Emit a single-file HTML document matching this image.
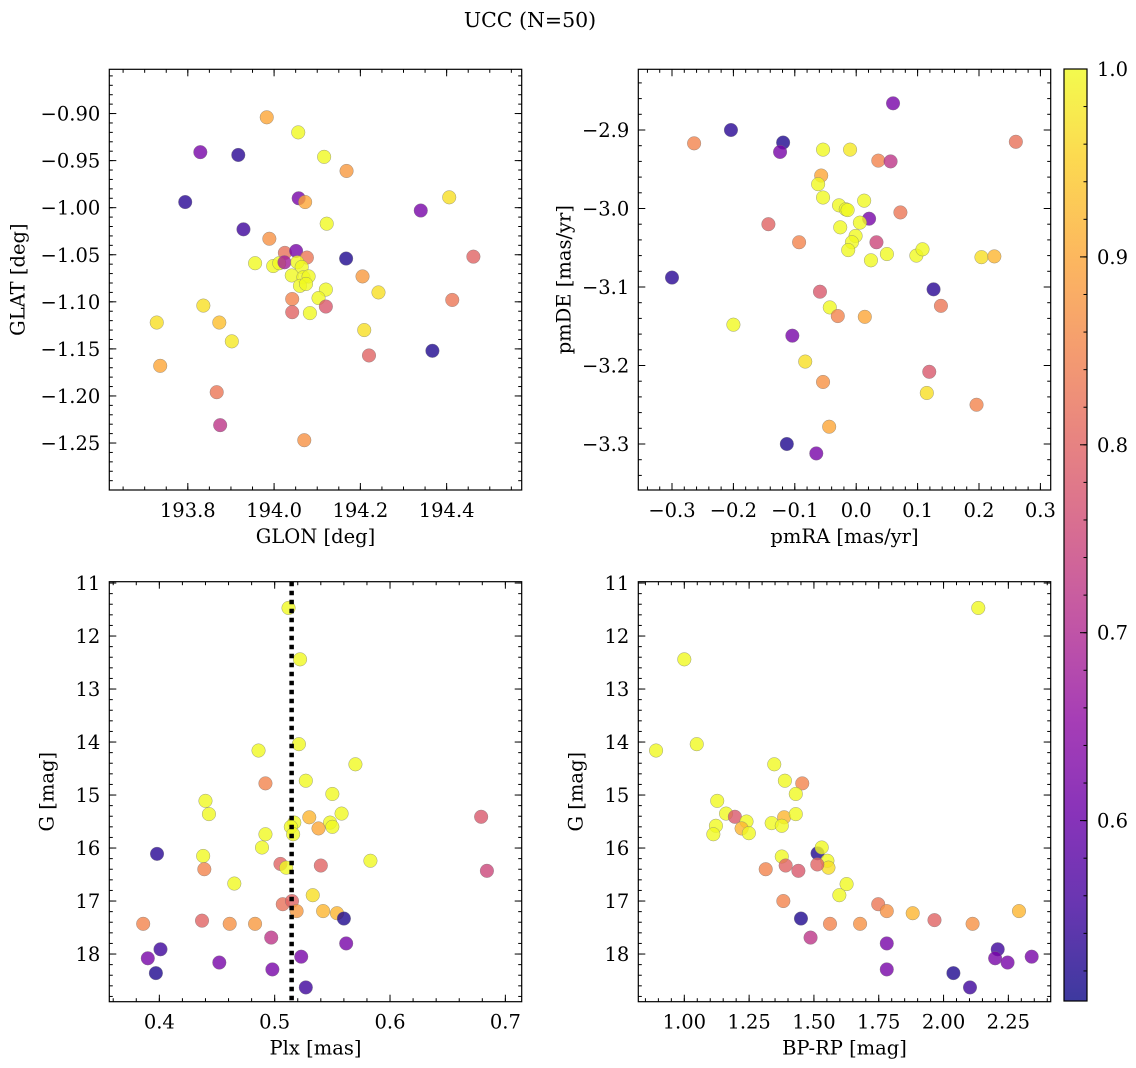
<!DOCTYPE html>
<html><head><meta charset="utf-8">
<style>
html,body{margin:0;padding:0;background:#fff;}
svg{display:block;font-family:"DejaVu Serif","Liberation Serif",serif;}
</style></head>
<body>
<svg id="fig" width="1136" height="1068" viewBox="0 0 1136 1068" xmlns="http://www.w3.org/2000/svg">
<text x="530" y="27" font-size="20.5" text-anchor="middle">UCC (N=50)</text>
</svg>
<script>
// ---- Panel 1: GLON vs GLAT ----
const glon1=[193.983,194.056,193.829,193.917,194.116,194.168,193.794,194.057,194.072,194.406,194.340,194.122,193.929,193.989,194.025,194.051,194.076,194.167,194.462,193.956,193.998,194.012,194.024,194.054,194.064,194.041,194.068,194.080,194.060,194.074,194.205,194.242,194.120,194.103,194.042,194.413,194.120,194.042,194.083,193.836,193.728,193.873,193.902,194.209,194.367,194.220,193.736,193.867,193.875,194.070];
const glat1=[-0.904,-0.920,-0.941,-0.944,-0.946,-0.961,-0.994,-0.990,-0.994,-0.989,-1.003,-1.017,-1.023,-1.033,-1.048,-1.046,-1.053,-1.054,-1.052,-1.059,-1.062,-1.059,-1.058,-1.058,-1.063,-1.072,-1.074,-1.073,-1.083,-1.081,-1.073,-1.090,-1.087,-1.096,-1.097,-1.098,-1.105,-1.111,-1.112,-1.104,-1.122,-1.122,-1.142,-1.130,-1.152,-1.157,-1.168,-1.196,-1.231,-1.247];
const prob1=[0.9,1.0,0.62,0.53,1.0,0.88,0.53,0.62,0.9,0.97,0.62,1.0,0.55,0.87,0.82,0.62,0.83,0.52,0.8,1.0,1.0,1.0,0.68,1.0,1.0,1.0,1.0,1.0,1.0,1.0,0.88,0.97,1.0,1.0,0.85,0.83,0.78,0.8,1.0,0.97,0.97,0.93,0.98,0.97,0.52,0.8,0.9,0.83,0.72,0.87];
// ---- Panel 2: pmRA vs pmDE ----
const pmra2=[0.060,-0.204,-0.264,-0.119,-0.124,0.260,-0.054,-0.010,0.036,0.056,-0.057,-0.062,-0.054,0.013,-0.028,-0.017,-0.014,0.021,0.072,-0.143,0.006,-0.026,-0.001,-0.007,-0.013,-0.093,0.033,0.024,0.050,0.098,0.108,0.204,0.225,-0.300,0.126,-0.059,0.138,-0.043,-0.030,0.014,-0.200,-0.104,-0.083,0.119,-0.054,0.115,0.196,-0.044,-0.113,-0.065];
const pmde2=[-2.866,-2.900,-2.917,-2.916,-2.928,-2.915,-2.925,-2.925,-2.939,-2.940,-2.958,-2.969,-2.986,-2.990,-2.996,-3.001,-3.002,-3.013,-3.005,-3.020,-3.018,-3.024,-3.035,-3.043,-3.053,-3.043,-3.043,-3.066,-3.058,-3.060,-3.052,-3.062,-3.061,-3.088,-3.103,-3.106,-3.124,-3.126,-3.137,-3.138,-3.148,-3.162,-3.195,-3.208,-3.221,-3.235,-3.250,-3.278,-3.300,-3.312];
const prob2=[0.62,0.53,0.85,0.52,0.62,0.82,1.0,0.98,0.85,0.72,0.9,1.0,1.0,1.0,1.0,1.0,1.0,0.62,0.83,0.8,1.0,1.0,1.0,1.0,1.0,0.85,0.75,1.0,1.0,1.0,1.0,0.97,0.92,0.53,0.53,0.78,0.83,1.0,0.85,0.9,1.0,0.62,0.97,0.78,0.87,0.97,0.85,0.9,0.52,0.62];
// ---- Panel 3: Plx vs G ----
const plx3=[0.512,0.522,0.521,0.486,0.570,0.492,0.527,0.550,0.440,0.443,0.558,0.530,0.548,0.550,0.538,0.517,0.514,0.516,0.492,0.489,0.679,0.398,0.438,0.583,0.439,0.505,0.510,0.540,0.684,0.465,0.533,0.507,0.515,0.519,0.542,0.554,0.560,0.386,0.437,0.461,0.483,0.497,0.562,0.401,0.390,0.523,0.452,0.498,0.397,0.527];
const g3=[11.47,12.44,14.04,14.16,14.42,14.78,14.73,14.98,15.11,15.36,15.35,15.42,15.52,15.60,15.63,15.52,15.60,15.74,15.74,15.99,15.41,16.11,16.15,16.24,16.40,16.30,16.37,16.33,16.43,16.67,16.89,17.06,17.00,17.19,17.19,17.23,17.33,17.43,17.37,17.43,17.43,17.69,17.80,17.91,18.08,18.05,18.16,18.29,18.36,18.63];
const prob3=[1.0,1.0,1.0,1.0,1.0,0.85,1.0,1.0,1.0,1.0,1.0,0.92,1.0,1.0,0.9,1.0,1.0,1.0,1.0,1.0,0.78,0.53,1.0,1.0,0.85,0.8,1.0,0.8,0.75,1.0,0.97,0.82,0.8,0.88,0.92,0.92,0.52,0.85,0.8,0.87,0.88,0.72,0.62,0.55,0.62,0.62,0.62,0.62,0.52,0.55];
const plxLine=[0.5147];
// ---- Panel 4: BP-RP vs G ----
const bprp4=[2.134,1.000,0.891,1.048,1.347,1.388,1.455,1.430,1.127,1.161,1.195,1.240,1.221,1.249,1.122,1.112,1.337,1.385,1.376,1.430,1.514,1.530,1.552,1.556,1.513,1.376,1.391,1.440,1.314,1.626,1.598,1.382,1.748,1.781,1.881,2.291,1.450,1.562,1.678,1.965,2.112,1.487,1.781,2.209,2.199,2.247,2.340,1.781,2.038,2.102];
const g4=[11.47,12.44,14.16,14.04,14.42,14.73,14.78,14.98,15.11,15.35,15.41,15.50,15.63,15.72,15.58,15.74,15.53,15.42,15.58,15.36,16.10,15.99,16.24,16.37,16.31,16.16,16.33,16.43,16.40,16.68,16.89,17.00,17.06,17.19,17.23,17.19,17.33,17.43,17.43,17.36,17.43,17.69,17.80,17.91,18.08,18.16,18.05,18.29,18.36,18.63];
const prob4=[1.0,1.0,1.0,1.0,1.0,1.0,0.85,1.0,1.0,1.0,0.78,1.0,0.92,1.0,1.0,1.0,1.0,0.92,1.0,1.0,0.52,1.0,1.0,0.97,0.8,1.0,0.8,0.78,0.85,1.0,1.0,0.85,0.83,0.87,0.92,0.92,0.52,0.85,0.87,0.8,0.87,0.72,0.62,0.55,0.62,0.62,0.62,0.62,0.52,0.55];
// ---- Colorbar ----
const cbTicks=[0.6,0.7,0.8,0.9,1.0];
const cbMin=0.504, cbMax=1.0;

const NS="http://www.w3.org/2000/svg";
const fig=document.getElementById('fig');
const FS=19.5;
function mk(tag,attrs,parent){const e=document.createElementNS(NS,tag);for(const k in attrs)e.setAttribute(k,attrs[k]);(parent||fig).appendChild(e);return e;}
const stops=["#0d0887","#41049d","#6a00a8","#8f0da4","#b12a90","#cc4778","#e16462","#f2844b","#fca636","#fcce25","#f0f921"];
function hex(h){return [parseInt(h.substr(1,2),16),parseInt(h.substr(3,2),16),parseInt(h.substr(5,2),16)];}
function plasma(t){t=Math.max(0,Math.min(1,t));const f=t*10,i=Math.min(9,Math.floor(f)),r=f-i;const a=hex(stops[i]),b=hex(stops[i+1]);return `rgb(${a.map((v,k)=>Math.round(v+(b[k]-v)*r)).join(',')})`;}
function fmt(v,d){const s=Math.abs(v).toFixed(d);return (v<-1e-9?'\u2212':'')+s;}

function panel(cfg){
  const g=mk('g',{});
  
  
  const {L,R,T,B}=cfg;
  const sx=v=>L+(v-cfg.x0)/(cfg.x1-cfg.x0)*(R-L);
  const sy=v=>cfg.yinv? T+(v-cfg.y0)/(cfg.y1-cfg.y0)*(B-T) : B-(v-cfg.y0)/(cfg.y1-cfg.y0)*(B-T);
  const pg=mk('g',{},g);
  
  
  cfg.xs.forEach((xv,i)=>{
    const c=mk('circle',{cx:sx(xv),cy:sy(cfg.ys[i]),r:6.8,fill:plasma((cfg.ps[i]-cbMin)/(cbMax-cbMin)),'fill-opacity':0.8,stroke:'#777','stroke-width':0.5,'stroke-opacity':0.7},pg);
    
    
  });
  if(cfg.vline){cfg.vline.forEach(v=>{const l=mk('line',{x1:sx(v),x2:sx(v),y1:T,y2:B,stroke:'#000','stroke-width':4.5,'stroke-dasharray':'4.5 4.5'},g);
    
    });}
  const tg=mk('g',{stroke:'#000','stroke-width':1},g);
  function xt(v,len){const x=sx(v);if(x<L-0.5||x>R+0.5)return;mk('line',{x1:x,x2:x,y1:B,y2:B-len},tg);mk('line',{x1:x,x2:x,y1:T,y2:T+len},tg);}
  function yt(v,len){const y=sy(v);if(y<T-0.5||y>B+0.5)return;mk('line',{x1:L,x2:L+len,y1:y,y2:y},tg);mk('line',{x1:R,x2:R-len,y1:y,y2:y},tg);}
  const n1=Math.ceil(Math.min(cfg.x0,cfg.x1)/cfg.xm-1e-6),n2=Math.floor(Math.max(cfg.x0,cfg.x1)/cfg.xm+1e-6);
  for(let n=n1;n<=n2;n++)xt(n*cfg.xm,3.5);
  const m1=Math.ceil(Math.min(cfg.y0,cfg.y1)/cfg.ym-1e-6),m2=Math.floor(Math.max(cfg.y0,cfg.y1)/cfg.ym+1e-6);
  for(let n=m1;n<=m2;n++)yt(n*cfg.ym,3.5);
  cfg.xticks.forEach(v=>{xt(v,7);const t=mk('text',{x:sx(v),y:B+27,'font-size':FS,'text-anchor':'middle'},g);t.textContent=fmt(v,cfg.xd);
    });
  cfg.yticks.forEach(v=>{yt(v,7);const t=mk('text',{x:L-9,y:sy(v)+7,'font-size':FS,'text-anchor':'end'},g);t.textContent=fmt(v,cfg.yd);
    });
  const fr=mk('rect',{x:L,y:T,width:R-L,height:B-T,fill:'none',stroke:'#000','stroke-width':1.2},g);
  
  const xl=mk('text',{x:(L+R)/2,y:B+53,'font-size':FS,'text-anchor':'middle'},g);xl.textContent=cfg.xlab;
  
  const ycx=L-cfg.ylo,ycy=(T+B)/2;
  const yl=mk('text',{x:ycx,y:ycy,'font-size':FS,'text-anchor':'middle',transform:`rotate(-90 ${ycx} ${ycy})`},g);yl.textContent=cfg.ylab;
  
}

panel({name:'glon-glat-panel',L:109.3,R:521.7,T:69.3,B:490,x0:193.618,x1:194.574,y0:-1.2999,y1:-0.853,
  xs:glon1,ys:glat1,ps:prob1,xticks:[193.8,194.0,194.2,194.4],xd:1,yticks:[-0.90,-0.95,-1.00,-1.05,-1.10,-1.15,-1.20,-1.25],yd:2,
  xm:0.05,ym:0.01,xlab:'GLON [deg]',ylab:'GLAT [deg]',ylo:85});
panel({name:'pm-panel',L:638.3,R:1050.7,T:69.3,B:490,x0:-0.3+((638.3-630)*3-126)/1842,x1:-0.3+((1050.7-630)*3-126)/1842,
  y0:-2.9-((490-60)*3-210)/2355,y1:-2.9-((69.3-60)*3-210)/2355,
  xs:pmra2,ys:pmde2,ps:prob2,xticks:[-0.3,-0.2,-0.1,0.0,0.1,0.2,0.3],xd:1,yticks:[-2.9,-3.0,-3.1,-3.2,-3.3],yd:1,
  xm:0.02,ym:0.02,xlab:'pmRA [mas/yr]',ylab:'pmDE [mas/yr]',ylo:68});
panel({name:'plx-g-panel',L:109.3,R:521.7,T:581.7,B:1001.7,x0:0.4+(27.9-178)/3460,x1:0.4+(1265-178)/3460,
  y0:11+(35-39)/159,y1:11+(1295-39)/159,yinv:true,vline:plxLine,
  xs:plx3,ys:g3,ps:prob3,xticks:[0.4,0.5,0.6,0.7],xd:1,yticks:[11,12,13,14,15,16,17,18],yd:0,
  xm:0.02,ym:0.2,xlab:'Plx [mas]',ylab:'G [mag]',ylo:56});
panel({name:'cmd-panel',L:638.3,R:1050.7,T:581.7,B:1001.7,x0:1+(25-163)/777.6,x1:1+(1262-163)/777.6,
  y0:11+(35-39)/159,y1:11+(1295-39)/159,yinv:true,
  xs:bprp4,ys:g4,ps:prob4,xticks:[1.0,1.25,1.5,1.75,2.0,2.25],xd:2,yticks:[11,12,13,14,15,16,17,18],yd:0,
  xm:0.05,ym:0.2,xlab:'BP-RP [mag]',ylab:'G [mag]',ylo:56});

(function(){
  const L=1064,R=1087,T=69,B=1001;
  const cy=v=>B-(v-cbMin)/(cbMax-cbMin)*(B-T);
  const defs=mk('defs',{});
  const lg=mk('linearGradient',{id:'cbg',x1:0,y1:1,x2:0,y2:0},defs);
  for(let i=0;i<=20;i++)mk('stop',{offset:i/20,'stop-color':plasma(i/20),'stop-opacity':0.8},lg);
  const cb=mk('g',{});
  
  
  mk('rect',{x:L,y:T,width:R-L,height:B-T,fill:'url(#cbg)',stroke:'#000','stroke-width':1.2},cb);
  for(let v=0.52;v<=1.0001;v+=0.02){mk('line',{x1:R,x2:R-3.5,y1:cy(v),y2:cy(v),stroke:'#000'},cb);}
  cbTicks.forEach(v=>{mk('line',{x1:R,x2:R-7,y1:cy(v),y2:cy(v),stroke:'#000'},cb);
    const t=mk('text',{x:R+10,y:cy(v)+7,'font-size':FS},cb);t.textContent=v.toFixed(1);
    });
})();
</script>
</body></html>
